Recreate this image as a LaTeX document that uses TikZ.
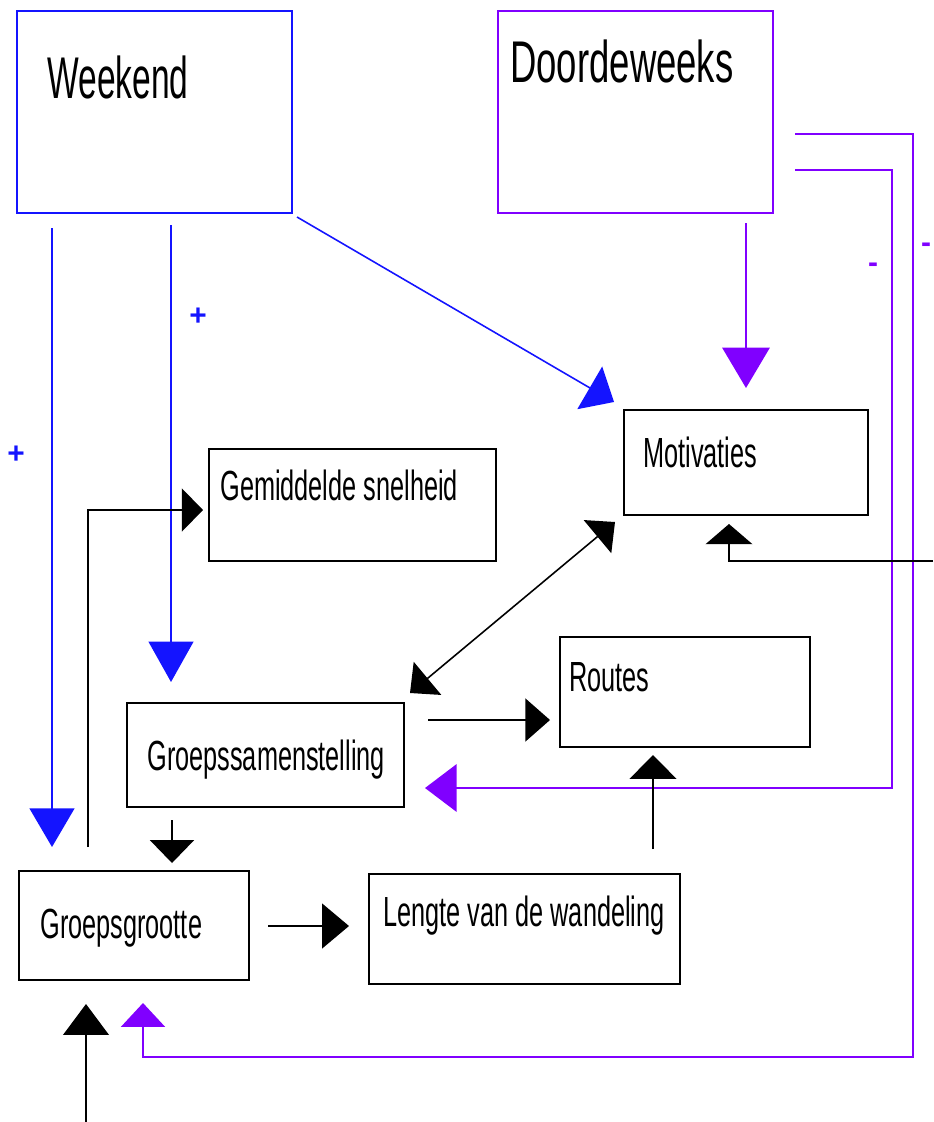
\documentclass[tikz,border=0pt]{standalone}
\usepackage{fontspec}
\newfontfamily\lab[FakeStretch=0.6]{Liberation Sans}
\newfontfamily\labA[FakeStretch=0.57]{Liberation Sans}
\newfontfamily\labB[FakeStretch=0.62]{Liberation Sans}
\newfontfamily\plainsans{Liberation Sans}
\usetikzlibrary{arrows.meta}
\definecolor{wblue}{RGB}{20,20,255}
\definecolor{dpurple}{RGB}{128,0,255}
\begin{document}
\begin{tikzpicture}[x=0.02cm,y=-0.02cm,
  box/.style={draw, line width=1.1pt, inner sep=0, anchor=north west},
  txt/.style={anchor=base west, inner sep=0, font=\lab\fontsize{24}{24}\selectfont},
  bigtxt/.style={anchor=base west, inner sep=0},
  sign/.style={inner sep=0, font=\plainsans\bfseries\fontsize{17}{17}\selectfont},
  conn/.style={line width=0.9pt},
  cconn/.style={line width=1.1pt},
  tri/.style 2 args={-{Triangle[length=#1,width=#2]}},
]
\useasboundingbox (0,0) rectangle (933,1122);

% boxes
\node[box, wblue, minimum width=275*0.02cm, minimum height=202*0.02cm] (wk) at (16,10) {};
\node[box, dpurple, minimum width=275*0.02cm, minimum height=202*0.02cm] (dw) at (497,10) {};
\node[box, minimum width=244*0.02cm, minimum height=105*0.02cm] (mot) at (623,409) {};
\node[box, minimum width=287*0.02cm, minimum height=112*0.02cm] (gem) at (208,448) {};
\node[box, minimum width=250*0.02cm, minimum height=110*0.02cm] (rou) at (559,636) {};
\node[box, minimum width=277*0.02cm, minimum height=104*0.02cm] (gs) at (126,702) {};
\node[box, minimum width=230*0.02cm, minimum height=109*0.02cm] (gg) at (18,870) {};
\node[box, minimum width=311*0.02cm, minimum height=110*0.02cm] (len) at (368,873) {};

% texts
\node[bigtxt, font=\labA\fontsize{33.5}{33.5}\selectfont] (wkT) at (47,99) {Weekend};
\node[bigtxt, font=\labB\fontsize{33.5}{33.5}\selectfont] (dwT) at (510,83) {Doordeweeks};
\node[txt] (motT) at (643,467) {Motivaties};
\node[txt] (gemT) at (220,500) {Gemiddelde snelheid};
\node[txt] (rouT) at (569,691) {Routes};
\node[txt] (gsT) at (147,770) {Groepssamenstelling};
\node[txt] (ggT) at (40,938) {Groepsgrootte};
\node[txt] (lenT) at (383,926) {Lengte van de wandeling};

% signs
\node[sign, wblue] (p1) at (16,455) {+};
\node[sign, wblue] (p2) at (198,317) {+};
\node[sign, dpurple] (m1) at (873,268) {-};
\node[sign, dpurple] (m2) at (926,248) {-};

% connector end points
\coordinate (b1s) at (52,228);   \coordinate (b1e) at (52,847);
\coordinate (b2s) at (171,225);  \coordinate (b2e) at (171,682);
\coordinate (b3s) at (297,217);  \coordinate (b3e) at (614,402);
\coordinate (v1s) at (746,223);  \coordinate (v1e) at (746,388);
\coordinate (v2s) at (795,170);  \coordinate (v2e) at (425,788);
\coordinate (v3s) at (795,134);  \coordinate (v3e) at (143,1003);
\coordinate (k1s) at (933,561);  \coordinate (k1e) at (729,524);
\coordinate (k2a) at (410,693);  \coordinate (k2b) at (615,522);
\coordinate (k3s) at (428,720);  \coordinate (k3e) at (550,720);
\coordinate (k4s) at (172,820);  \coordinate (k4e) at (172,863);
\coordinate (k5s) at (88,847);   \coordinate (k5e) at (203,510);
\coordinate (k6s) at (268,926);  \coordinate (k6e) at (349,926);
\coordinate (k7s) at (653,849);  \coordinate (k7e) at (653,755);
\coordinate (k8s) at (86,1122);  \coordinate (k8e) at (86,1004);

% blue connectors
\draw[cconn, wblue, tri={22pt}{25.5pt}] (b1s) -- (b1e);
\draw[cconn, wblue, tri={23pt}{25.5pt}] (b2s) -- (b2e);
\draw[line width=0.9pt, wblue, tri={16pt}{28pt}] (b3s) -- (b3e);

% purple connectors
\draw[cconn, dpurple, tri={23pt}{27pt}] (v1s) -- (v1e);
\draw[cconn, dpurple, tri={18pt}{27pt}] (v2s) -- (892,170) -- (892,788) -- (v2e);
\draw[cconn, dpurple, tri={13.6pt}{25pt}] (v3s) -- (913,134) -- (913,1057) -- (143,1057) -- (v3e);

% black connectors
\draw[conn, tri={11.5pt}{26.6pt}] (k1s) -- (729,561) -- (k1e);
\draw[conn, {Triangle[length=13pt,width=24.4pt]}-{Triangle[length=13pt,width=24.4pt]}] (k2a) -- (k2b);
\draw[conn, tri={14pt}{24.4pt}] (k3s) -- (k3e);
\draw[conn, tri={13pt}{25pt}] (k4s) -- (k4e);
\draw[conn, tri={12pt}{24.4pt}] (k5s) -- (88,510) -- (k5e);
\draw[conn, tri={15.3pt}{25.5pt}] (k6s) -- (k6e);
\draw[conn, tri={13.6pt}{26.6pt}] (k7s) -- (k7e);
\draw[conn, tri={17.6pt}{26pt}] (k8s) -- (k8e);
\end{tikzpicture}
\end{document}
